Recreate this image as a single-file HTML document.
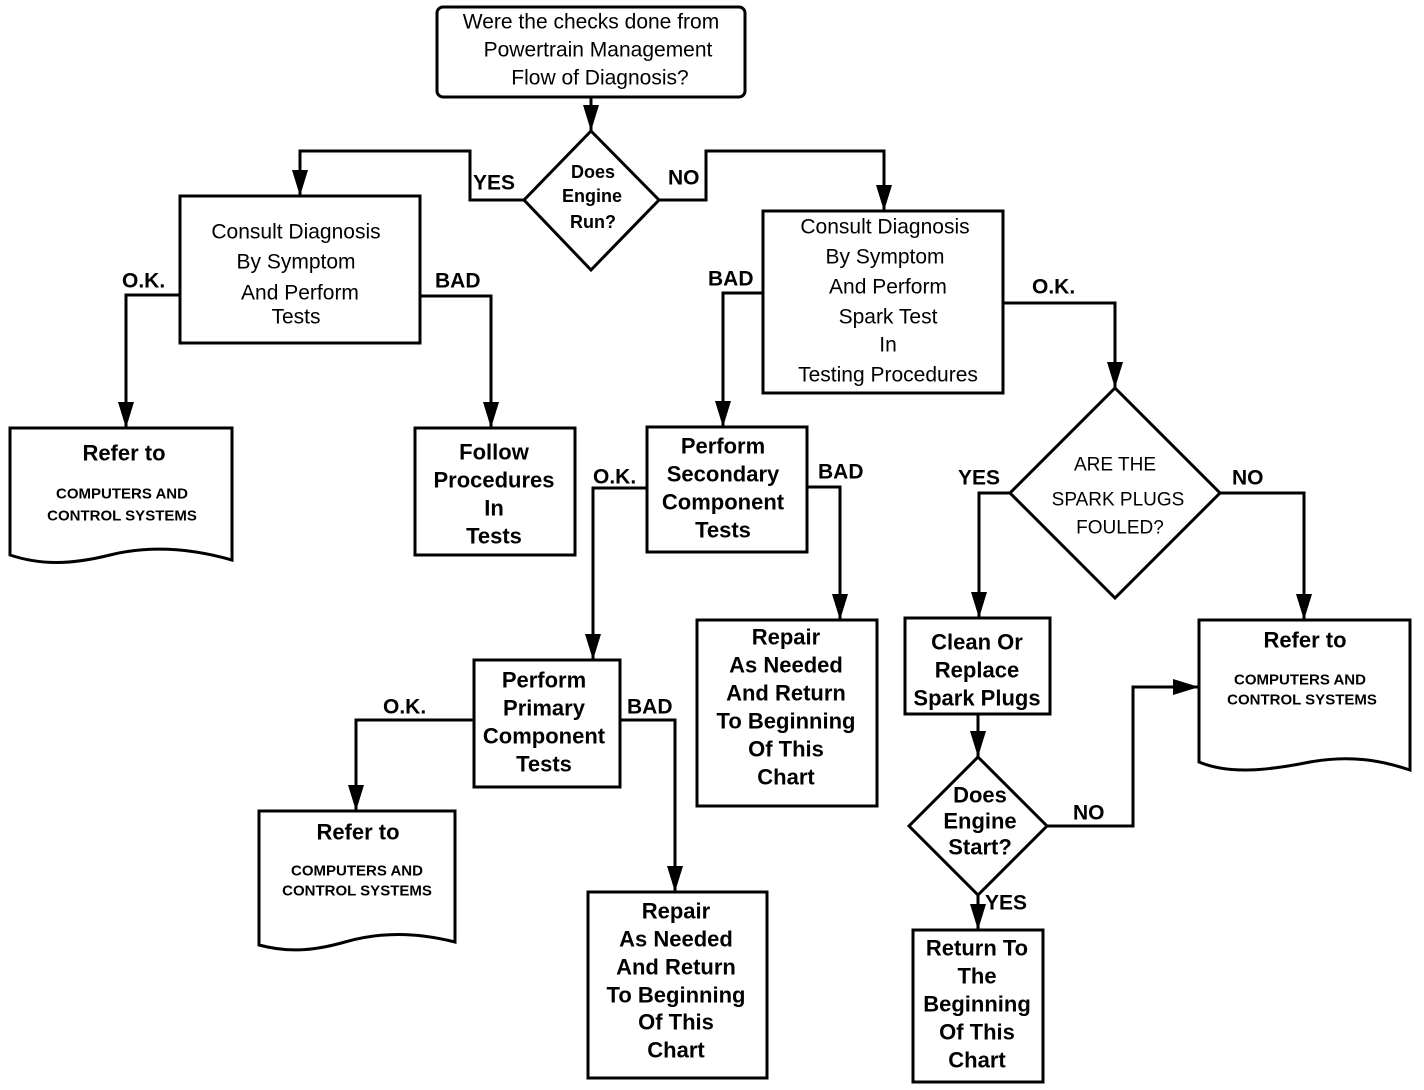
<!DOCTYPE html>
<html><head><meta charset="utf-8"><style>
html,body{margin:0;padding:0;background:#fff}
svg{display:block}
text{font-family:"Liberation Sans",Arial,sans-serif;fill:#000;text-anchor:middle;dominant-baseline:central}
.b{font-weight:bold;font-size:22px}
.n{font-size:21px}
.l{font-weight:bold;font-size:21px;text-anchor:start}
.s{font-weight:bold;font-size:15px}
</style></head><body>
<svg width="1424" height="1090" viewBox="0 0 1424 1090" xmlns="http://www.w3.org/2000/svg">
<defs>
<marker id="a" markerWidth="28" markerHeight="16" refX="26" refY="8" orient="auto" markerUnits="userSpaceOnUse">
<path d="M0,0 L26,8 L0,16 Z" fill="#000"/></marker>
</defs>
<g fill="none" stroke="#000" stroke-width="3">
<!-- top box -->
<rect x="437" y="7" width="308" height="90" rx="6"/>
<path d="M591,97 V131" marker-end="url(#a)"/>
<polygon points="591,131 659,200 591,270 524,200"/>
<path d="M524,200 H470 V151 H300 V196" marker-end="url(#a)"/>
<path d="M659,200 H706 V151 H884 V211" marker-end="url(#a)"/>
<rect x="180" y="196" width="240" height="147"/>
<path d="M180,295 H126 V428" marker-end="url(#a)"/>
<path d="M420,296 H491 V428" marker-end="url(#a)"/>
<path d="M10,428 H232 V560 C190,548 150,545 110,555 C70,565 40,565 10,555 Z"/>
<rect x="415" y="428" width="160" height="127"/>
<rect x="763" y="211" width="240" height="182"/>
<path d="M763,293 H723 V427" marker-end="url(#a)"/>
<path d="M1003,303 H1115 V388" marker-end="url(#a)"/>
<polygon points="1115,388 1220,493 1115,598 1010,493"/>
<path d="M1010,493 H979 V618" marker-end="url(#a)"/>
<path d="M1220,493 H1304 V620" marker-end="url(#a)"/>
<rect x="647" y="427" width="160" height="125"/>
<path d="M647,488 H593 V660" marker-end="url(#a)"/>
<path d="M807,487 H840 V620" marker-end="url(#a)"/>
<rect x="697" y="620" width="180" height="186"/>
<rect x="474" y="660" width="146" height="127"/>
<path d="M474,720 H356 V811" marker-end="url(#a)"/>
<path d="M620,720 H675 V892" marker-end="url(#a)"/>
<path d="M259,811 H455 V942 C415,932 380,932 345,942 C310,952 285,952 259,945 Z"/>
<rect x="588" y="892" width="179" height="186"/>
<rect x="905" y="618" width="145" height="96"/>
<path d="M978,714 V757" marker-end="url(#a)"/>
<polygon points="978,757 1047,826 978,895 909,826"/>
<path d="M1047,826 H1133 V687 H1199" marker-end="url(#a)"/>
<path d="M978,895 V930" marker-end="url(#a)"/>
<rect x="913" y="930" width="130" height="152"/>
<path d="M1199,620 H1410 V770 C1380,760 1350,755 1310,762 C1270,770 1230,775 1199,762 Z"/>
</g>
<!-- texts -->
<text class="n" x="591" y="22">Were the checks done from</text>
<text class="n" x="598" y="50">Powertrain Management</text>
<text class="n" x="600" y="78">Flow of Diagnosis?</text>
<text class="b" style="font-size:18px" x="593" y="172">Does</text>
<text class="b" style="font-size:18px" x="592" y="196">Engine</text>
<text class="b" style="font-size:18px" x="593" y="222">Run?</text>
<text class="l" x="473" y="183">YES</text>
<text class="l" x="668" y="178">NO</text>
<text class="n" x="296" y="232">Consult  Diagnosis</text>
<text class="n" x="296" y="262">By Symptom</text>
<text class="n" x="300" y="293">And Perform</text>
<text class="n" x="296" y="317">Tests</text>
<text class="l" x="122" y="281">O.K.</text>
<text class="l" x="435" y="281">BAD</text>
<text class="b" x="124" y="453">Refer to</text>
<text class="s" x="122" y="494">COMPUTERS AND</text>
<text class="s" x="122" y="516">CONTROL SYSTEMS</text>
<text class="b" x="494" y="452">Follow</text>
<text class="b" x="494" y="480">Procedures</text>
<text class="b" x="494" y="508">In</text>
<text class="b" x="494" y="536">Tests</text>
<text class="n" x="885" y="227">Consult Diagnosis</text>
<text class="n" x="885" y="257">By Symptom</text>
<text class="n" x="888" y="287">And Perform</text>
<text class="n" x="888" y="317">Spark Test</text>
<text class="n" x="888" y="345">In</text>
<text class="n" x="888" y="375">Testing Procedures</text>
<text class="l" x="708" y="279">BAD</text>
<text class="l" x="1032" y="287">O.K.</text>
<text class="n" style="font-size:19px" x="1115" y="465">ARE  THE</text>
<text class="n" style="font-size:19px" x="1118" y="500">SPARK PLUGS</text>
<text class="n" style="font-size:19px" x="1120" y="528">FOULED?</text>
<text class="l" x="958" y="478">YES</text>
<text class="l" x="1232" y="478">NO</text>
<text class="b" x="723" y="446">Perform</text>
<text class="b" x="723" y="474">Secondary</text>
<text class="b" x="723" y="502">Component</text>
<text class="b" x="723" y="530">Tests</text>
<text class="l" x="593" y="477">O.K.</text>
<text class="l" x="818" y="472">BAD</text>
<text class="b" x="786" y="637">Repair</text>
<text class="b" x="786" y="665">As Needed</text>
<text class="b" x="786" y="693">And Return</text>
<text class="b" x="786" y="721">To Beginning</text>
<text class="b" x="786" y="749">Of This</text>
<text class="b" x="786" y="777">Chart</text>
<text class="b" x="544" y="680">Perform</text>
<text class="b" x="544" y="708">Primary</text>
<text class="b" x="544" y="736">Component</text>
<text class="b" x="544" y="764">Tests</text>
<text class="l" x="383" y="707">O.K.</text>
<text class="l" x="627" y="707">BAD</text>
<text class="b" x="358" y="832">Refer to</text>
<text class="s" x="357" y="871">COMPUTERS AND</text>
<text class="s" x="357" y="891">CONTROL SYSTEMS</text>
<text class="b" x="676" y="911">Repair</text>
<text class="b" x="676" y="939">As Needed</text>
<text class="b" x="676" y="967">And Return</text>
<text class="b" x="676" y="995">To Beginning</text>
<text class="b" x="676" y="1022">Of This</text>
<text class="b" x="676" y="1050">Chart</text>
<text class="b" x="977" y="642">Clean Or</text>
<text class="b" x="977" y="670">Replace</text>
<text class="b" x="977" y="698">Spark Plugs</text>
<text class="b" x="980" y="795">Does</text>
<text class="b" x="980" y="821">Engine</text>
<text class="b" x="980" y="847">Start?</text>
<text class="l" x="1073" y="813">NO</text>
<text class="l" x="985" y="903">YES</text>
<text class="b" x="977" y="948">Return To</text>
<text class="b" x="977" y="976">The</text>
<text class="b" x="977" y="1004">Beginning</text>
<text class="b" x="977" y="1032">Of This</text>
<text class="b" x="977" y="1060">Chart</text>
<text class="b" x="1305" y="640">Refer to</text>
<text class="s" x="1300" y="680">COMPUTERS AND</text>
<text class="s" x="1302" y="700">CONTROL SYSTEMS</text>
</svg>
</body></html>
